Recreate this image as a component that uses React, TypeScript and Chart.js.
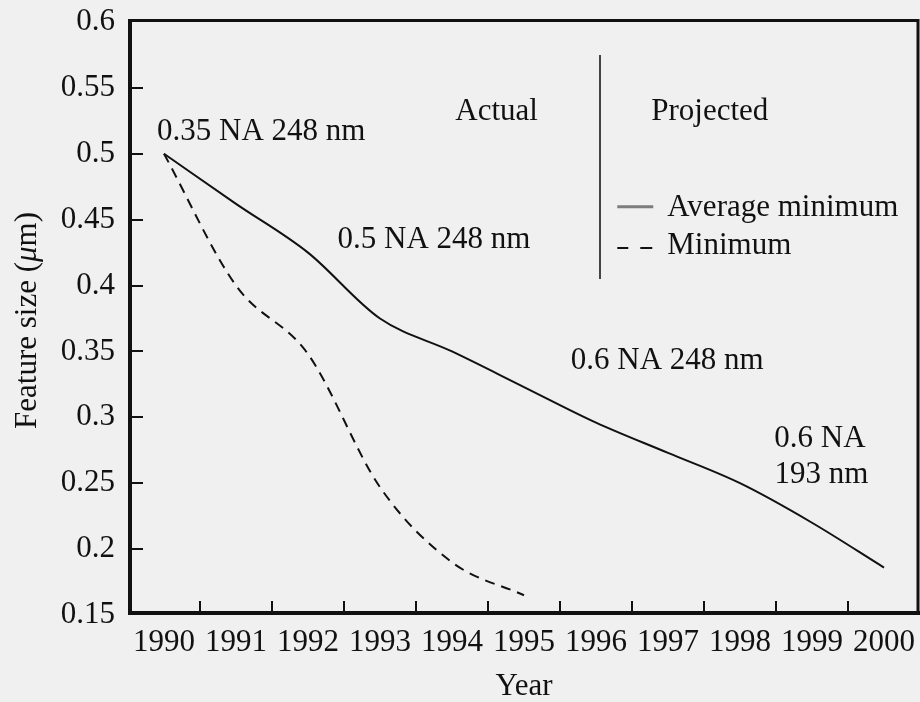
import React, { useEffect, useRef } from "react";
import { Chart, registerables } from "chart.js";

Chart.register(...registerables);

// ---- data ----
const years = ["1990", "1991", "1992", "1993", "1994", "1995", "1996", "1997", "1998", "1999", "2000"];
const averageMinimum = [0.5, 0.462, 0.425, 0.375, 0.35, 0.323, 0.296, 0.273, 0.25, 0.22, 0.186];
const minimum = [0.5, 0.4, 0.348, 0.247, 0.19, 0.165, null, null, null, null, null];
const yTickValues = [0.15, 0.2, 0.25, 0.3, 0.35, 0.4, 0.45, 0.5, 0.55, 0.6];

// annotation texts (x = year index on the category axis, y = feature size)
const annotationTexts = [
  { text: "0.35 NA 248 nm", x: 1.35, y: 0.517 },
  { text: "0.5 NA 248 nm", x: 3.75, y: 0.435 },
  { text: "Actual", x: 4.62, y: 0.532 },
  { text: "Projected", x: 7.58, y: 0.532 },
  { text: "0.6 NA 248 nm", x: 6.99, y: 0.343 },
  { text: "0.6 NA", x: 9.11, y: 0.284 },
  { text: "193 nm", x: 9.13, y: 0.256 },
];
const dividerLine = { x: 6.06, yTop: 0.575, yBottom: 0.405 };
const legendItems = [
  { label: "Average minimum", dashed: false, x: 6.99, y: 0.459 },
  { label: "Minimum", dashed: true, x: 6.99, y: 0.43 },
];

const FONT = "'Liberation Serif', 'DejaVu Serif', serif";
const FS = 31;
const INK = "#111111";
const BG = "#f0f0f0";

const decorPlugin = {
  id: "decor",
  beforeDraw(chart: any) {
    const ctx = chart.ctx;
    ctx.save();
    ctx.fillStyle = BG;
    ctx.fillRect(0, 0, chart.width, chart.height);
    ctx.restore();
  },
  afterDraw(chart: any) {
    const ctx = chart.ctx;
    const xs = chart.scales.x;
    const ys = chart.scales.y;
    const { left, right, top, bottom } = chart.chartArea;
    ctx.save();
    ctx.strokeStyle = INK;
    ctx.lineCap = "butt";

    // frame
    ctx.lineWidth = 4;
    ctx.beginPath();
    ctx.moveTo(left + 2, top - 3);
    ctx.lineTo(left + 2, bottom - 2);
    ctx.lineTo(right, bottom - 2);
    ctx.stroke();
    ctx.lineWidth = 3;
    ctx.beginPath();
    ctx.moveTo(left, top - 1.5);
    ctx.lineTo(right - 2, top - 1.5);
    ctx.lineTo(right - 2, bottom - 1);
    ctx.stroke();

    // inward tick marks
    ctx.lineWidth = 2;
    for (let i = 1; i < years.length; i++) {
      const px = Math.round((xs.getPixelForValue(i - 1) + xs.getPixelForValue(i)) / 2);
      ctx.beginPath();
      ctx.moveTo(px, bottom - 3);
      ctx.lineTo(px, bottom - 14);
      ctx.stroke();
    }
    for (const v of yTickValues) {
      if (v === ys.min || v === ys.max) continue;
      const py = Math.round(ys.getPixelForValue(v));
      ctx.beginPath();
      ctx.moveTo(left + 3, py);
      ctx.lineTo(left + 15, py);
      ctx.stroke();
    }

    // annotation texts
    ctx.fillStyle = INK;
    ctx.font = `${FS}px ${FONT}`;
    ctx.textAlign = "center";
    ctx.textBaseline = "middle";
    for (const a of annotationTexts) {
      ctx.fillText(a.text, xs.getPixelForValue(a.x), ys.getPixelForValue(a.y));
    }

    // divider
    ctx.strokeStyle = "#444";
    ctx.lineWidth = 2;
    const dx = Math.round(xs.getPixelForValue(dividerLine.x));
    ctx.beginPath();
    ctx.moveTo(dx, ys.getPixelForValue(dividerLine.yTop));
    ctx.lineTo(dx, ys.getPixelForValue(dividerLine.yBottom));
    ctx.stroke();

    // legend
    ctx.textAlign = "left";
    for (const item of legendItems) {
      const lx = xs.getPixelForValue(item.x);
      const ly = ys.getPixelForValue(item.y);
      if (item.dashed) {
        ctx.strokeStyle = INK;
        ctx.lineWidth = 2;
        ctx.beginPath();
        ctx.moveTo(lx - 50, ly + 2);
        ctx.lineTo(lx - 39, ly + 2);
        ctx.moveTo(lx - 27, ly + 2);
        ctx.lineTo(lx - 15, ly + 2);
        ctx.stroke();
      } else {
        ctx.strokeStyle = "#7d7d7d";
        ctx.lineWidth = 3;
        ctx.beginPath();
        ctx.moveTo(lx - 50, ly - 1);
        ctx.lineTo(lx - 14, ly - 1);
        ctx.stroke();
      }
      ctx.fillStyle = INK;
      ctx.fillText(item.label, lx, ly);
    }

    // y axis title with italic mu
    const parts = [
      { t: "Feature size (", italic: false },
      { t: "\u03bc", italic: true },
      { t: "m)", italic: false },
    ];
    let total = 0;
    const widths: number[] = [];
    for (const p of parts) {
      ctx.font = `${p.italic ? "italic " : ""}${FS}px ${FONT}`;
      const w = ctx.measureText(p.t).width;
      widths.push(w);
      total += w;
    }
    ctx.translate(28, (top + bottom) / 2 + 2);
    ctx.rotate(-Math.PI / 2);
    ctx.textAlign = "left";
    ctx.textBaseline = "middle";
    let cx = -total / 2;
    parts.forEach((p, i) => {
      ctx.font = `${p.italic ? "italic " : ""}${FS}px ${FONT}`;
      ctx.fillText(p.t, cx, 0);
      cx += widths[i];
    });
    ctx.restore();
  },
};

export default function App() {
  const ref = useRef<HTMLCanvasElement | null>(null);

  useEffect(() => {
    if (!ref.current) return;
    const chart = new Chart(ref.current, {
      type: "line",
      data: {
        labels: years,
        datasets: [
          {
            label: "Average minimum",
            data: averageMinimum,
            borderColor: INK,
            borderWidth: 2,
            pointRadius: 0,
            cubicInterpolationMode: "monotone",
            fill: false,
          },
          {
            label: "Minimum",
            data: minimum,
            borderColor: INK,
            borderWidth: 2,
            borderDash: [10, 7],
            pointRadius: 0,
            cubicInterpolationMode: "monotone",
            fill: false,
            spanGaps: false,
          },
        ],
      },
      options: {
        animation: false,
        responsive: false,
        events: [],
        layout: { padding: { top: 22, left: 0, right: 0, bottom: 0 } },
        plugins: {
          legend: { display: false },
          tooltip: { enabled: false },
          title: { display: false },
        },
        scales: {
          x: {
            type: "category",
            offset: true,
            grid: { display: false, drawTicks: false },
            border: { display: false },
            ticks: {
              font: { family: FONT, size: FS },
              color: INK,
              padding: 9,
              maxRotation: 0,
              autoSkip: false,
            },
            title: {
              display: true,
              text: "Year",
              font: { family: FONT, size: FS, lineHeight: 1 },
              color: INK,
              padding: { top: 0, bottom: 0 },
            },
            afterFit: (s: any) => {
              s.height = 87;
              s.paddingLeft = 0;
              s.paddingRight = 0;
            },
          },
          y: {
            type: "linear",
            min: 0.15,
            max: 0.6,
            grid: { display: false, drawTicks: false },
            border: { display: false },
            afterBuildTicks: (s: any) => {
              s.ticks = yTickValues.map((v) => ({ value: v }));
            },
            ticks: {
              font: { family: FONT, size: FS },
              color: INK,
              padding: 13,
              callback: (v: any) => String(Number(Number(v).toFixed(2))),
            },
            afterFit: (s: any) => {
              s.width = 128;
              s.paddingTop = 0;
              s.paddingBottom = 0;
            },
          },
        },
      },
      plugins: [decorPlugin],
    });
    return () => chart.destroy();
  }, []);

  return (
    <div style={{ position: "fixed", left: 0, top: 0, width: 920, height: 702, background: BG }}>
      <canvas ref={ref} width={920} height={702} style={{ display: "block" }} />
    </div>
  );
}
